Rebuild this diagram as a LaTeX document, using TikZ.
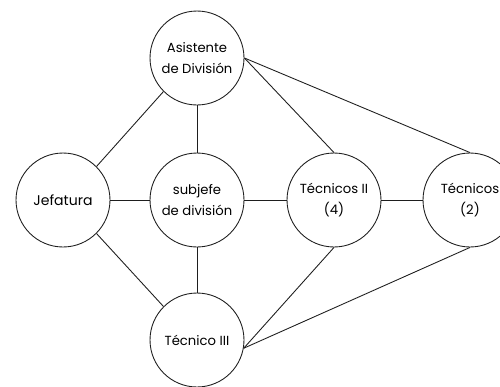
\documentclass[tikz,border=0pt]{standalone}
\usepackage{fontspec}
\setmainfont{Poppins}
\usepackage{tikz}
\definecolor{lineGray}{RGB}{30, 30, 30}

\begin{document}
\begin{tikzpicture}[x=0.02cm, y=-0.02cm,
    rol/.style={circle, draw=lineGray, line width=0.5pt, minimum size=1.88cm, inner sep=0pt, align=center, font=\fontsize{7.5}{11.5}\selectfont},
    link/.style={draw=lineGray, line width=0.5pt}]
    \useasboundingbox (0,0) rectangle (500,386);
    \node[rol] (asist) at (197,58) {Asistente\\de División};
    \node[rol, font=\fontsize{8}{10}\selectfont] (jef) at (63,200) {Jefatura};
    \node[rol] (subj) at (197,200) {subjefe\\de división};
    \node[rol] (tec2) at (334,200) {Técnicos II\\(4)};
    \node[rol] (tecs) at (470,200) {Técnicos\\(2)};
    \node[rol] (tec3) at (197,340) {Técnico III};
    \draw[link] (jef.45) -- (asist.225);
    \draw[link] (jef.-45) -- (tec3.135);
    \draw[link] (jef) -- (subj);
    \draw[link] (asist) -- (subj);
    \draw[link] (subj) -- (tec3);
    \draw[link] (subj) -- (tec2);
    \draw[link] (tec2) -- (tecs);
    \draw[link] (asist.east) -- (tec2.north);
    \draw[link] (asist.east) -- (tecs.north);
    \draw[link] (tec2.south) -- (tec3.-10);
    \draw[link] (tecs.south) -- (tec3.-10);
  \end{tikzpicture}
\end{document}
